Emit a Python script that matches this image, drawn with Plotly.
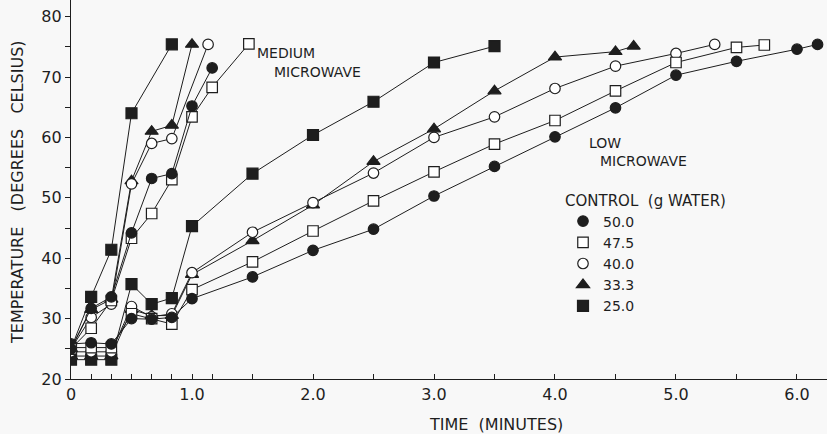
import plotly.graph_objects as go

# ---------------- data ----------------
T6 = [0, 1/6, 2/6, 3/6, 4/6, 5/6]

# Medium microwave
med_t_50 = T6 + [1.0, 7/6]
med_v_50 = [25.0, 31.7, 33.6, 44.2, 53.2, 54.0, 65.2, 71.5]
med_t_475 = T6 + [1.0, 7/6, 1.47]
med_v_475 = [25.0, 28.4, 33.0, 43.3, 47.4, 53.0, 63.4, 68.3, 75.5]
med_t_40 = T6 + [1.133]
med_v_40 = [25.0, 30.2, 32.4, 52.3, 59.0, 59.8, 75.4]
med_t_333 = T6 + [1.0]
med_v_333 = [25.0, 31.5, 33.2, 52.8, 61.0, 62.0, 75.4]
med_t_25 = [0, 1/6, 2/6, 3/6, 5/6]
med_v_25 = [25.0, 33.6, 41.4, 64.0, 75.4]

# Low microwave
low_t_50 = T6 + [1.0, 1.5, 2.0, 2.5, 3.0, 3.5, 4.0, 4.5, 5.0, 5.5, 6.0, 6.17]
low_v_50 = [25.8, 26.0, 25.8, 30.0, 29.9, 30.2, 33.3, 36.9, 41.3, 44.8, 50.3, 55.2,
            60.1, 64.9, 70.3, 72.6, 74.6, 75.4]
low_t_475 = T6 + [1.0, 1.5, 2.0, 2.5, 3.0, 3.5, 4.0, 4.5, 5.0, 5.5, 5.73]
low_v_475 = [25.2, 25.2, 25.2, 30.8, 30.0, 29.1, 34.8, 39.4, 44.5, 49.5, 54.3, 58.9,
             62.8, 67.7, 72.4, 74.9, 75.3]
low_t_40 = T6 + [1.0, 1.5, 2.0, 2.5, 3.0, 3.5, 4.0, 4.5, 5.0, 5.32]
low_v_40 = [24.5, 24.5, 24.5, 32.0, 30.3, 30.8, 37.6, 44.3, 49.2, 54.1, 60.0, 63.4,
            68.1, 71.8, 73.9, 75.4]
low_t_333 = T6 + [1.0, 1.5, 2.0, 2.5, 3.0, 3.5, 4.0, 4.5, 4.65]
low_v_333 = [23.8, 23.8, 23.8, 31.5, 30.5, 30.5, 37.3, 42.9, 48.8, 56.0, 61.4, 67.7,
             73.3, 74.2, 75.1]
low_t_25 = T6 + [1.0, 1.5, 2.0, 2.5, 3.0, 3.5]
low_v_25 = [23.2, 23.2, 23.2, 35.7, 32.4, 33.4, 45.3, 54.0, 60.4, 65.9, 72.4, 75.1]

legend_labels = ["50.0", "47.5", "40.0", "33.3", "25.0"]

x_tickvals = [0, 1/6, 2/6, 3/6, 4/6, 5/6, 1.0, 7/6, 1.5, 2.0, 2.5, 3.0, 3.5,
              4.0, 4.5, 5.0, 5.5, 6.0]
x_ticktext = ["0", "", "", "", "", "", "1.0", "", "", "2.0", "", "3.0", "",
              "4.0", "", "5.0", "", "6.0"]
y_tickvals = [20, 25, 30, 35, 40, 45, 50, 55, 60, 65, 70, 75, 80]
y_ticktext = ["20", "", "30", "", "40", "", "50", "", "60", "", "70", "", "80"]

# ---------------- styling ----------------
INK = "#1e1e1e"
BG = "#f8f8f8"
FONT = "DejaVu Sans"
NB = "\u00a0"

styles = {
    "50.0": dict(symbol="circle", color=INK, size=10.5),
    "47.5": dict(symbol="square", color="white", size=10.5),
    "40.0": dict(symbol="circle", color="white", size=10.5),
    "33.3": dict(symbol="triangle-up", color=INK, size=11.5),
    "25.0": dict(symbol="square", color=INK, size=11),
}

series = [
    ("25.0", low_t_25, low_v_25), ("33.3", low_t_333, low_v_333),
    ("40.0", low_t_40, low_v_40), ("47.5", low_t_475, low_v_475),
    ("50.0", low_t_50, low_v_50),
    ("25.0", med_t_25, med_v_25), ("33.3", med_t_333, med_v_333),
    ("40.0", med_t_40, med_v_40), ("47.5", med_t_475, med_v_475),
    ("50.0", med_t_50, med_v_50),
]

fig = go.Figure()
for key, xs, ys in series:
    st = styles[key]
    fig.add_trace(go.Scatter(
        x=xs, y=ys, mode="lines+markers", showlegend=False, hoverinfo="skip",
        line=dict(color=INK, width=1),
        marker=dict(symbol=st["symbol"], color=st["color"], size=st["size"],
                    line=dict(color=INK, width=1.2)),
    ))

for key in legend_labels:
    st = styles[key]
    fig.add_trace(go.Scatter(
        x=[None], y=[None], mode="markers", name=key, showlegend=True,
        marker=dict(symbol=st["symbol"], color=st["color"], size=st["size"],
                    line=dict(color=INK, width=1.2)),
    ))

fig.update_layout(
    width=827, height=434, autosize=False,
    margin=dict(l=71, r=0, t=0, b=55),
    paper_bgcolor=BG, plot_bgcolor=BG,
    font=dict(family=FONT, size=15, color=INK),
    showlegend=True,
    legend=dict(
        x=(563 - 71) / 756, y=(379 - 186) / 379, xanchor="left", yanchor="top",
        bgcolor="rgba(0,0,0,0)", borderwidth=0,
        title=dict(text="CONTROL" + NB + NB + "(g WATER)",
                   font=dict(size=15, family=FONT, color=INK)),
        font=dict(size=14, family=FONT, color=INK),
        itemwidth=30, tracegroupgap=0,
    ),
    xaxis=dict(
        range=[0, 6.248], tickmode="array", tickvals=x_tickvals, ticktext=x_ticktext,
        ticks="inside", ticklen=5, tickwidth=1.2, tickcolor=INK,
        showline=True, linecolor=INK, linewidth=1.3, showgrid=False, zeroline=False,
        tickfont=dict(size=16, family=FONT, color=INK), ticklabelstandoff=1,
    ),
    yaxis=dict(
        range=[20, 82.75], tickmode="array", tickvals=y_tickvals, ticktext=y_ticktext,
        ticks="outside", ticklen=5, tickwidth=1.2, tickcolor=INK,
        showline=True, linecolor=INK, linewidth=1.3, showgrid=False, zeroline=False,
        tickfont=dict(size=16, family=FONT, color=INK),
    ),
)

annots = [
    dict(text="TEMPERATURE" + NB * 3 + "(DEGREES" + NB * 3 + "CELSIUS)",
         x=(17.5 - 71) / 756, y=(379 - 192.5) / 379, textangle=-90, size=16),
    dict(text="TIME" + NB * 2 + "(MINUTES)", x=(496 - 71) / 756, y=(379 - 424) / 379, size=16),
    dict(text="MEDIUM", x=(286 - 71) / 756, y=(379 - 53) / 379, size=14),
    dict(text="MICROWAVE", x=(317 - 71) / 756, y=(379 - 72) / 379, size=14),
    dict(text="LOW", x=(605 - 71) / 756, y=(379 - 143) / 379, size=14),
    dict(text="MICROWAVE", x=(643 - 71) / 756, y=(379 - 161) / 379, size=14),
]
for a in annots:
    fig.add_annotation(
        text=a["text"], x=a["x"], y=a["y"], xref="paper", yref="paper",
        xanchor="center", yanchor="middle", showarrow=False,
        textangle=a.get("textangle", 0),
        font=dict(size=a["size"], family=FONT, color=INK),
    )

fig.write_html(
    "out.html",
    config={"displayModeBar": False, "staticPlot": False},
    post_script="document.body.style.margin='0';document.body.style.background='" + BG + "';",
)
